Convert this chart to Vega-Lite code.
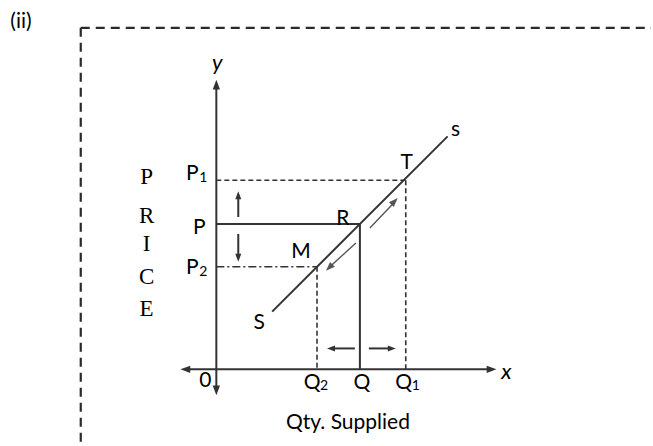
{
  "$schema": "https://vega.github.io/schema/vega-lite/v6.json",
  "width": 653,
  "height": 446,
  "autosize": {"type": "fit", "contains": "padding"},
  "padding": 0,
  "background": "white",
  "config": {"view": {"stroke": null}, "axis": {"disable": true}},
  "datasets": {
    "solid": [
      {"id": "yaxis", "x": 0, "y": -22, "x2": 0, "y2": 285},
      {"id": "xaxis", "x": -30, "y": 0, "x2": 275, "y2": 0},
      {"id": "supply", "x": 56, "y": 58, "x2": 232, "y2": 234},
      {"id": "P", "x": 0, "y": 146, "x2": 144, "y2": 146},
      {"id": "Q", "x": 144, "y": 146, "x2": 144, "y2": 0},
      {"id": "up", "x": 22, "y": 153, "x2": 22, "y2": 174},
      {"id": "down", "x": 22, "y": 136, "x2": 22, "y2": 113},
      {"id": "left", "x": 139, "y": 21, "x2": 116, "y2": 21},
      {"id": "right", "x": 153, "y": 21, "x2": 175, "y2": 21}
    ],
    "dashed": [
      {"id": "P1", "x": 0, "y": 190, "x2": 190, "y2": 190},
      {"id": "Q1", "x": 190, "y": 190, "x2": 190, "y2": 0},
      {"id": "Q2", "x": 101, "y": 103, "x2": 101, "y2": 0}
    ],
    "dashdot": [
      {"id": "P2", "x": 0, "y": 103, "x2": 101, "y2": 103}
    ],
    "box": [
      {"id": "top", "x": -136, "y": 343, "x2": 436, "y2": 343},
      {"id": "left", "x": -136, "y": 343, "x2": -136, "y2": -75}
    ],
    "gray": [
      {"id": "rise", "x": 154, "y": 142, "x2": 177, "y2": 166},
      {"id": "fall", "x": 140, "y": 127, "x2": 115, "y2": 104}
    ],
    "axisheads": [
      {"id": "ytop", "x": 0, "y": 291, "angle": 0},
      {"id": "ybottom", "x": 0, "y": -26, "angle": 180},
      {"id": "xright", "x": 281, "y": 0, "angle": 90},
      {"id": "xleft", "x": -36, "y": 0, "angle": 270}
    ],
    "heads": [
      {"id": "up", "x": 22, "y": 179, "angle": 0},
      {"id": "down", "x": 22, "y": 108, "angle": 180},
      {"id": "left", "x": 111, "y": 21, "angle": 270},
      {"id": "right", "x": 180, "y": 21, "angle": 90}
    ],
    "grayheads": [
      {"id": "rise", "x": 182, "y": 172, "angle": 45},
      {"id": "fall", "x": 110, "y": 99, "angle": 225}
    ],
    "labels": [
      {"t": "(ii)", "x": -196, "y": 349},
      {"t": "s", "x": 240, "y": 240},
      {"t": "T", "x": 191, "y": 207},
      {"t": "P", "x": -24, "y": 196},
      {"t": "P", "x": -17, "y": 142},
      {"t": "P", "x": -24, "y": 102},
      {"t": "R", "x": 127, "y": 151},
      {"t": "M", "x": 85, "y": 118},
      {"t": "S", "x": 43, "y": 47},
      {"t": "0", "x": -11, "y": -12},
      {"t": "Q", "x": 96, "y": -14},
      {"t": "Q", "x": 146, "y": -14},
      {"t": "Q", "x": 188, "y": -14},
      {"t": "Qty. Supplied", "x": 132, "y": -54}
    ],
    "subs": [
      {"t": "1", "x": -13, "y": 192},
      {"t": "2", "x": -13, "y": 98},
      {"t": "2", "x": 108, "y": -17},
      {"t": "1", "x": 200, "y": -17}
    ],
    "italic": [
      {"t": "y", "x": 1, "y": 308},
      {"t": "x", "x": 291, "y": -3}
    ],
    "price": [
      {"t": "P", "x": -70, "y": 193},
      {"t": "R", "x": -70, "y": 154},
      {"t": "I", "x": -70, "y": 126},
      {"t": "C", "x": -70, "y": 93},
      {"t": "E", "x": -70, "y": 61}
    ]
  },
  "layer": [
    {
      "data": {"name": "box"},
      "mark": {"type": "rule", "stroke": "#2a2a2a", "strokeWidth": 2.2, "strokeDash": [9, 6]},
      "encoding": {
        "x": {"field": "x", "type": "quantitative", "scale": {"domain": [-217, 436], "nice": false, "zero": false}},
        "y": {"field": "y", "type": "quantitative", "scale": {"domain": [-75, 371], "nice": false, "zero": false}},
        "x2": {"field": "x2"},
        "y2": {"field": "y2"}
      }
    },
    {
      "data": {"name": "solid"},
      "mark": {"type": "rule", "stroke": "#333333", "strokeWidth": 2},
      "encoding": {
        "x": {"field": "x", "type": "quantitative", "scale": {"domain": [-217, 436], "nice": false, "zero": false}},
        "y": {"field": "y", "type": "quantitative", "scale": {"domain": [-75, 371], "nice": false, "zero": false}},
        "x2": {"field": "x2"},
        "y2": {"field": "y2"}
      }
    },
    {
      "data": {"name": "dashed"},
      "mark": {"type": "rule", "stroke": "#333333", "strokeWidth": 1.6, "strokeDash": [5, 3]},
      "encoding": {
        "x": {"field": "x", "type": "quantitative", "scale": {"domain": [-217, 436], "nice": false, "zero": false}},
        "y": {"field": "y", "type": "quantitative", "scale": {"domain": [-75, 371], "nice": false, "zero": false}},
        "x2": {"field": "x2"},
        "y2": {"field": "y2"}
      }
    },
    {
      "data": {"name": "dashdot"},
      "mark": {"type": "rule", "stroke": "#333333", "strokeWidth": 1.6, "strokeDash": [8, 3, 2, 3]},
      "encoding": {
        "x": {"field": "x", "type": "quantitative", "scale": {"domain": [-217, 436], "nice": false, "zero": false}},
        "y": {"field": "y", "type": "quantitative", "scale": {"domain": [-75, 371], "nice": false, "zero": false}},
        "x2": {"field": "x2"},
        "y2": {"field": "y2"}
      }
    },
    {
      "data": {"name": "gray"},
      "mark": {"type": "rule", "stroke": "#555555", "strokeWidth": 1.4},
      "encoding": {
        "x": {"field": "x", "type": "quantitative", "scale": {"domain": [-217, 436], "nice": false, "zero": false}},
        "y": {"field": "y", "type": "quantitative", "scale": {"domain": [-75, 371], "nice": false, "zero": false}},
        "x2": {"field": "x2"},
        "y2": {"field": "y2"}
      }
    },
    {
      "data": {"name": "axisheads"},
      "mark": {"type": "point", "shape": "M0,0L0.6,1.6L-0.6,1.6Z", "filled": true, "fill": "#333333", "stroke": null, "size": 150, "opacity": 1},
      "encoding": {
        "x": {"field": "x", "type": "quantitative", "scale": {"domain": [-217, 436], "nice": false, "zero": false}},
        "y": {"field": "y", "type": "quantitative", "scale": {"domain": [-75, 371], "nice": false, "zero": false}},
        "angle": {"field": "angle", "type": "quantitative", "scale": null}
      }
    },
    {
      "data": {"name": "heads"},
      "mark": {"type": "point", "shape": "M0,0L0.6,1.6L-0.6,1.6Z", "filled": true, "fill": "#333333", "stroke": null, "size": 100, "opacity": 1},
      "encoding": {
        "x": {"field": "x", "type": "quantitative", "scale": {"domain": [-217, 436], "nice": false, "zero": false}},
        "y": {"field": "y", "type": "quantitative", "scale": {"domain": [-75, 371], "nice": false, "zero": false}},
        "angle": {"field": "angle", "type": "quantitative", "scale": null}
      }
    },
    {
      "data": {"name": "grayheads"},
      "mark": {"type": "point", "shape": "M0,0L0.6,1.6L-0.6,1.6Z", "filled": true, "fill": "#555555", "stroke": null, "size": 130, "opacity": 1},
      "encoding": {
        "x": {"field": "x", "type": "quantitative", "scale": {"domain": [-217, 436], "nice": false, "zero": false}},
        "y": {"field": "y", "type": "quantitative", "scale": {"domain": [-75, 371], "nice": false, "zero": false}},
        "angle": {"field": "angle", "type": "quantitative", "scale": null}
      }
    },
    {
      "data": {"name": "labels"},
      "mark": {"type": "text", "font": "Lato", "fontSize": 21, "fill": "#000000", "align": "center", "baseline": "middle"},
      "encoding": {
        "x": {"field": "x", "type": "quantitative", "scale": {"domain": [-217, 436], "nice": false, "zero": false}},
        "y": {"field": "y", "type": "quantitative", "scale": {"domain": [-75, 371], "nice": false, "zero": false}},
        "text": {"field": "t"}
      }
    },
    {
      "data": {"name": "subs"},
      "mark": {"type": "text", "font": "Lato", "fontSize": 14, "fill": "#000000", "align": "center", "baseline": "middle"},
      "encoding": {
        "x": {"field": "x", "type": "quantitative", "scale": {"domain": [-217, 436], "nice": false, "zero": false}},
        "y": {"field": "y", "type": "quantitative", "scale": {"domain": [-75, 371], "nice": false, "zero": false}},
        "text": {"field": "t"}
      }
    },
    {
      "data": {"name": "italic"},
      "mark": {"type": "text", "font": "Lato", "fontStyle": "italic", "fontSize": 22, "fill": "#000000", "align": "center", "baseline": "middle"},
      "encoding": {
        "x": {"field": "x", "type": "quantitative", "scale": {"domain": [-217, 436], "nice": false, "zero": false}},
        "y": {"field": "y", "type": "quantitative", "scale": {"domain": [-75, 371], "nice": false, "zero": false}},
        "text": {"field": "t"}
      }
    },
    {
      "data": {"name": "price"},
      "mark": {"type": "text", "font": "Liberation Serif", "fontSize": 23, "fill": "#000000", "align": "center", "baseline": "middle"},
      "encoding": {
        "x": {"field": "x", "type": "quantitative", "scale": {"domain": [-217, 436], "nice": false, "zero": false}},
        "y": {"field": "y", "type": "quantitative", "scale": {"domain": [-75, 371], "nice": false, "zero": false}},
        "text": {"field": "t"}
      }
    }
  ]
}
